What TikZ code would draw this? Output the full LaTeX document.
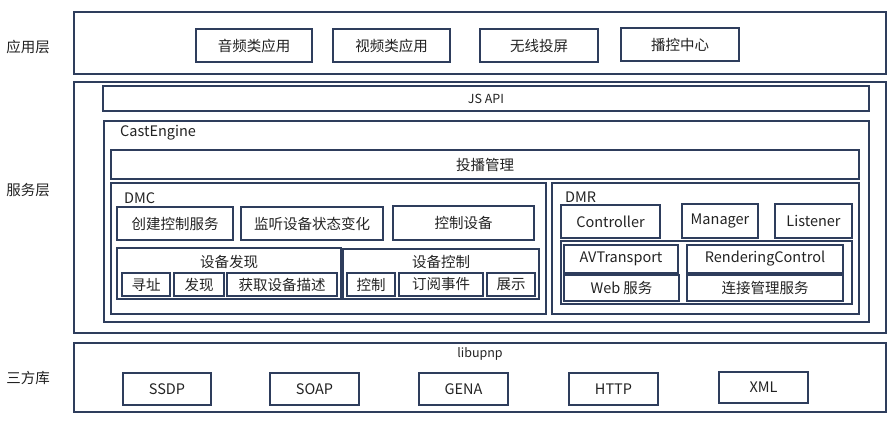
\documentclass[tikz,border=0pt]{standalone}
\usepackage{fontspec}
\setmainfont{Noto Sans CJK SC}
\definecolor{bc}{HTML}{2E3D5C}
\definecolor{tc}{HTML}{222222}
\tikzset{
  box/.style={draw=bc, line width=1.1pt, inner sep=0pt, outer sep=0pt, text=tc, font=\fontsize{14.5}{16}\selectfont},
  outerbox/.style={box, line width=2pt},
  lbl/.style={inner sep=0pt, text=tc, font=\fontsize{14.5}{16}\selectfont},
  small/.style={font=\fontsize{12.5}{14}\selectfont},
}
\newcommand\bx[7][]{\node[box,#1, minimum width={#5-#3}, minimum height={#6-#4}] (#2) at ({(#3+#5)/2},{(#4+#6)/2}) {#7};}
\begin{document}
\begin{tikzpicture}[x=1pt,y=-1pt]
\useasboundingbox (0,0) rectangle (892,422);
% layer labels
\node[lbl] (lapp) at (28,47) {应用层};
\node[lbl] (lsrv) at (28,190) {服务层};
\node[lbl] (llib) at (28,378) {三方库};
% application layer
\bx[outerbox]{app}{74}{12}{886}{74}{}
\bx{a1}{196}{29}{312}{62}{音频类应用}
\bx{a2}{333}{29}{450}{62}{视频类应用}
\bx{a3}{480}{29}{598}{62}{无线投屏}
\bx{a4}{621}{28}{739}{61}{播控中心}
% service layer
\bx[outerbox]{srv}{74}{82}{886}{333}{}
\bx[small]{js}{103}{86}{869}{111}{JS API}
\bx{ce}{104}{121}{869}{322}{}
\node[lbl, anchor=west] (cel) at (120,133) {CastEngine};
\bx{tb}{111}{150}{859}{179}{投播管理}
% DMC
\bx{dmc}{111}{183}{546}{314}{}
\node[lbl, anchor=west] (dmcl) at (124,198) {DMC};
\bx{c1}{117}{207}{233}{240}{创建控制服务}
\bx{c2}{241}{207}{383}{240}{监听设备状态变化}
\bx{c3}{393}{206}{534}{240}{控制设备}
\bx{fx}{117}{248}{341}{299}{}
\node[lbl] (fxl) at (229,262) {设备发现};
\bx{f1}{122}{273}{170}{296}{寻址}
\bx{f2}{174}{273}{224}{296}{发现}
\bx{f3}{227}{273}{337}{296}{获取设备描述}
\bx{kz}{343}{249}{539}{299}{}
\node[lbl] (kzl) at (441,262) {设备控制};
\bx{k1}{347}{273}{395}{296}{控制}
\bx{k2}{399}{273}{483}{296}{订阅事件}
\bx{k3}{487}{273}{535}{296}{展示}
% DMR
\bx{dmr}{552}{183}{859}{314}{}
\node[lbl, anchor=west] (dmrl) at (565,197) {DMR};
\bx{r1}{561}{205}{660}{238}{Controller}
\bx{r2}{682}{204}{758}{238}{Manager}
\bx{r3}{775}{204}{852}{238}{Listener}
\bx{rin}{561}{241}{852}{304}{}
\bx{s1}{564}{245}{678}{273}{AVTransport}
\bx{s2}{687}{245}{843}{273}{RenderingControl}
\bx{s3}{564}{275}{679}{301}{Web 服务}
\bx{s4}{687}{275}{843}{301}{连接管理服务}
% third party
\bx[outerbox]{lib}{74}{343}{886}{412}{}
\node[lbl, small] (libl) at (480,354) {libupnp};
\bx{p1}{123}{373}{211}{405}{SSDP}
\bx{p2}{270}{373}{359}{405}{SOAP}
\bx{p3}{419}{373}{508}{405}{GENA}
\bx{p4}{569}{373}{658}{405}{HTTP}
\bx{p5}{719}{372}{808}{403}{XML}
\end{tikzpicture}
\end{document}
